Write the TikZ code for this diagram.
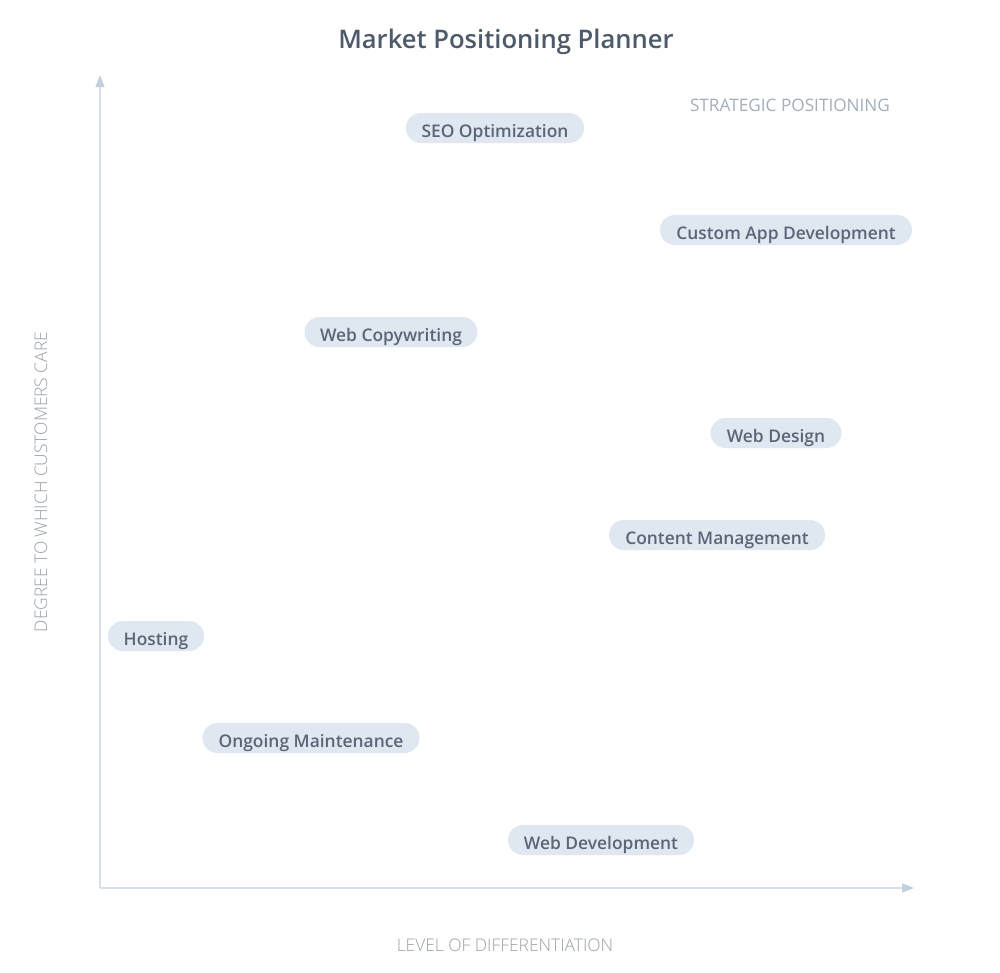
\documentclass[tikz,border=0pt]{standalone}
\usepackage{fontspec}
\setmainfont{Open Sans}
\newfontfamily\ossb{Open Sans Semibold}
\newfontfamily\oslt{Open Sans Light}
\usetikzlibrary{arrows.meta}
\definecolor{titlec}{HTML}{4E5A6A}
\definecolor{pillfill}{HTML}{DFE7F0}
\definecolor{pilltext}{HTML}{5A6677}
\definecolor{axisc}{HTML}{D8E0EA}
\definecolor{arrowc}{HTML}{C3CFDD}
\definecolor{labc}{HTML}{9AA1AA}
\definecolor{stratc}{HTML}{A3AEBB}
\tikzset{
  pill/.style={fill=pillfill, rounded corners=15pt, minimum height=30pt, inner xsep=0pt, inner ysep=0pt,
    text height=18pt, text depth=0pt,
    text=pilltext, font=\ossb\fontsize{17.4}{20}\selectfont},
  axisline/.style={draw=axisc, line width=1.2pt, -{Triangle[length=12pt,width=9pt,color=arrowc,fill=arrowc]}},
  axislab/.style={text=labc, font=\oslt\fontsize{17.4}{20}\selectfont, anchor=base}
}
\begin{document}
\begin{tikzpicture}[x=1pt,y=-1pt]
\useasboundingbox[fill=white] (0,0) rectangle (1000,972);
\node[text=titlec, font=\ossb\fontsize{25.6}{30}\selectfont, anchor=base] (title) at (506,48) {Market Positioning Planner};
\coordinate (origin) at (100,888);
\coordinate (ytip) at (100,75);
\coordinate (xtip) at (914,888);
\draw[axisline] (origin) -- (ytip);
\draw[axisline] (origin) -- (xtip);
\node[axislab] (xlab) at (505,951) {LEVEL OF DIFFERENTIATION};
\node[axislab, rotate=90] (ylab) at (47,482) {DEGREE TO WHICH CUSTOMERS CARE};
\node[text=stratc, font=\fontsize{17.2}{20}\selectfont, anchor=base] (strat) at (790,111) {STRATEGIC POSITIONING};
\node[pill, minimum width=178pt] (seo) at (495,128) {SEO Optimization};
\node[pill, minimum width=252pt] (custom) at (786,230) {Custom App Development};
\node[pill, minimum width=173pt] (copy) at (391,332) {Web Copywriting};
\node[pill, minimum width=131pt] (design) at (776,433) {Web Design};
\node[pill, minimum width=216pt] (cms) at (717,535) {Content Management};
\node[pill, minimum width=96pt] (host) at (156,636) {Hosting};
\node[pill, minimum width=217pt] (maint) at (311,738) {Ongoing Maintenance};
\node[pill, minimum width=186pt] (dev) at (601,840) {Web Development};
\end{tikzpicture}
\end{document}
